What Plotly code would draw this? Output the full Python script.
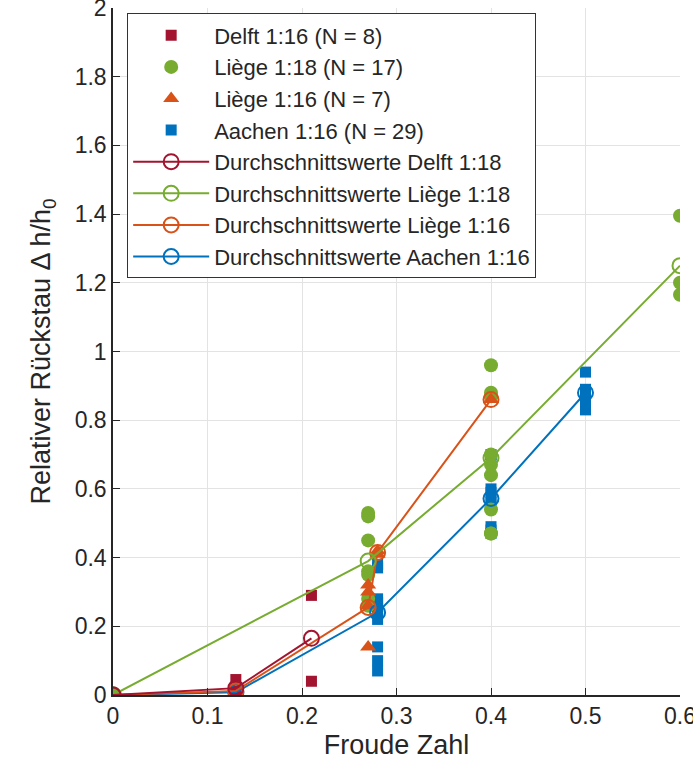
import plotly.graph_objects as go

# Raw measurements
delft_x = [0, 0, 0.13, 0.13, 0.13, 0.21, 0.21]
delft_y = [0, 0, 0.045, 0.01, 0.005, 0.29, 0.04]

liege18_x = [0, 0.27, 0.27, 0.27, 0.27, 0.27, 0.27, 0.27,
             0.4, 0.4, 0.4, 0.4, 0.4, 0.4, 0.4, 0.4, 0.4, 0.6, 0.6, 0.6]
liege18_y = [0, 0.53, 0.52, 0.45, 0.36, 0.35, 0.28, 0.26,
             0.96, 0.88, 0.87, 0.70, 0.67, 0.64, 0.54, 0.47, 0.47, 1.395, 1.20, 1.165]

liege16_x = [0.27, 0.27, 0.27, 0.27, 0.28, 0.28, 0.4]
liege16_y = [0.14, 0.26, 0.32, 0.30, 0.42, 0.41, 0.86]

aachen_x = [0, 0.13, 0.28, 0.28, 0.28, 0.28, 0.28, 0.28, 0.28, 0.28, 0.28, 0.28,
            0.4, 0.4, 0.4, 0.4, 0.4, 0.4, 0.4, 0.4, 0.4, 0.5, 0.5, 0.5, 0.5, 0.5]
aachen_y = [0, 0.01, 0.38, 0.37, 0.28, 0.27, 0.25, 0.24, 0.22, 0.14, 0.10, 0.07,
            0.70, 0.68, 0.60, 0.59, 0.57, 0.56, 0.49, 0.48, 0.47, 0.94, 0.89, 0.88, 0.85, 0.83]

# Mean values
mean_delft_x = [0, 0.13, 0.21]
mean_delft_y = [0, 0.02, 0.165]
mean_liege18_x = [0, 0.27, 0.4, 0.6]
mean_liege18_y = [0, 0.39, 0.69, 1.25]
mean_liege16_x = [0, 0.13, 0.27, 0.28, 0.4]
mean_liege16_y = [0, 0.012, 0.255, 0.415, 0.86]
mean_aachen_x = [0, 0.13, 0.28, 0.4, 0.5]
mean_aachen_y = [0, 0.008, 0.24, 0.572, 0.88]

x_ticks = [0, 0.1, 0.2, 0.3, 0.4, 0.5, 0.6]
x_ticklabels = ["0", "0.1", "0.2", "0.3", "0.4", "0.5", "0.6"]
y_ticks = [0, 0.2, 0.4, 0.6, 0.8, 1, 1.2, 1.4, 1.6, 1.8, 2]
y_ticklabels = ["0", "0.2", "0.4", "0.6", "0.8", "1", "1.2", "1.4", "1.6", "1.8", "2"]

RED = "#A2142F"
GREEN = "#77AC30"
ORANGE = "#D95319"
BLUE = "#0072BD"

fig = go.Figure()

fig.add_trace(go.Scatter(x=aachen_x, y=aachen_y, mode="markers", name="Aachen 1:16 (N = 29)",
                         marker=dict(symbol="square", size=11, color=BLUE), legendrank=4))
fig.add_trace(go.Scatter(x=delft_x, y=delft_y, mode="markers", name="Delft 1:16 (N = 8)",
                         marker=dict(symbol="square", size=11, color=RED), legendrank=1))
fig.add_trace(go.Scatter(x=liege18_x, y=liege18_y, mode="markers", name="Liège 1:18 (N = 17)",
                         marker=dict(symbol="circle", size=14, color=GREEN), legendrank=2))
fig.add_trace(go.Scatter(x=liege16_x, y=liege16_y, mode="markers", name="Liège 1:16 (N = 7)",
                         marker=dict(symbol="triangle-up", size=14, color=ORANGE), legendrank=3))

def open_marker(c):
    return dict(symbol="circle-open", size=15, color=c, line=dict(width=2, color=c))

fig.add_trace(go.Scatter(x=mean_aachen_x, y=mean_aachen_y, mode="lines+markers",
                         name="Durchschnittswerte Aachen 1:16", line=dict(color=BLUE, width=2),
                         marker=open_marker(BLUE), legendrank=8))
fig.add_trace(go.Scatter(x=mean_liege16_x, y=mean_liege16_y, mode="lines+markers",
                         name="Durchschnittswerte Liège 1:16", line=dict(color=ORANGE, width=2),
                         marker=open_marker(ORANGE), legendrank=7))
fig.add_trace(go.Scatter(x=mean_liege18_x, y=mean_liege18_y, mode="lines+markers",
                         name="Durchschnittswerte Liège 1:18", line=dict(color=GREEN, width=2),
                         marker=open_marker(GREEN), legendrank=6))
fig.add_trace(go.Scatter(x=mean_delft_x, y=mean_delft_y, mode="lines+markers",
                         name="Durchschnittswerte Delft 1:18", line=dict(color=RED, width=2),
                         marker=open_marker(RED), legendrank=5))

FONT = "Liberation Sans, Arial, sans-serif"
TXT = "#262626"
axis_common = dict(showgrid=True, gridcolor="#E3E3E3", gridwidth=1, zeroline=False,
                   showline=True, linecolor=TXT, linewidth=1.5,
                   ticks="inside", ticklen=7, tickcolor=TXT,
                   ticklabeloverflow="allow", automargin=False,
                   tickfont=dict(family=FONT, size=23, color=TXT))

fig.update_layout(
    width=693, height=770,
    margin=dict(l=113, r=13, t=8, b=75),
    plot_bgcolor="white", paper_bgcolor="white",
    font=dict(family=FONT, color=TXT),
    showlegend=True,
    legend=dict(x=0.025, y=0.992, xanchor="left", yanchor="top",
                bgcolor="white", bordercolor="#333333", borderwidth=1,
                font=dict(family=FONT, size=22, color=TXT),
                tracegroupgap=0, itemwidth=76),
    xaxis=dict(range=[0, 0.6], tickvals=x_ticks, ticktext=x_ticklabels,
               title=dict(text="Froude Zahl", font=dict(family=FONT, size=27, color=TXT), standoff=7),
               **axis_common),
    yaxis=dict(range=[0, 2], tickvals=y_ticks, ticktext=y_ticklabels,
               title=dict(text="Relativer Rückstau Δ h/h<sub>0</sub>",
                          font=dict(family=FONT, size=27, color=TXT), standoff=16),
               **axis_common),
)

fig.write_html("out.html")
